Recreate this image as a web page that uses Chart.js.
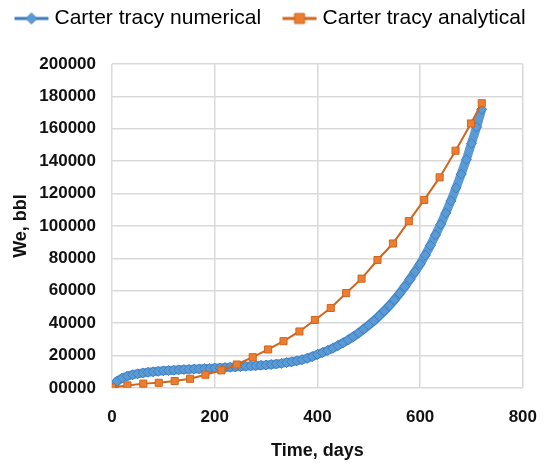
<!DOCTYPE html>
<html>
<head>
<meta charset="utf-8">
<script src="https://cdn.jsdelivr.net/npm/chart.js@4.4.1/dist/chart.umd.min.js"></script>
<style>
  html, body { margin: 0; padding: 0; background: #fff; }
  #wrap { width: 556px; height: 466px; }
</style>
</head>
<body>
<div id="wrap"><canvas id="weChart" width="556" height="466"></canvas></div>
<script>
// Carter-Tracy water influx, numerical (daily-ish) vs analytical (monthly)
const numericalDays = [0, 10, 20, 30, 40, 50, 60, 70, 80, 90, 100, 110, 120, 130, 140, 150, 160, 170, 180, 190,
  200, 210, 220, 230, 240, 250, 260, 270, 280, 290, 300, 310, 320, 330, 340, 350, 360, 370, 380, 390,
  400, 410, 420, 430, 440, 450, 460, 470, 480, 490, 500, 510, 520, 530, 540, 550, 560, 570, 580, 590,
  600, 610, 620, 630, 640, 650, 660, 670, 680, 690, 700, 710, 720];
const numericalWe = [0, 4200, 6200, 7400, 8200, 8800, 9300, 9700, 10000, 10300, 10600, 10800, 11000, 11200, 11400, 11500, 11700, 11800, 12000, 12100,
  12300, 12400, 12600, 12800, 13000, 13200, 13400, 13600, 13800, 14000, 14200, 14500, 14800, 15200, 15700, 16200, 16800, 17500, 18300, 19400,
  20700, 21900, 23200, 24600, 26200, 27900, 29700, 31700, 33900, 36300, 38800, 41500, 44400, 47500, 50800, 54400, 58300, 62500, 67000, 71700,
  76500, 82000, 88000, 94500, 101000, 108000, 115500, 123500, 132000, 141000, 151000, 161000, 172000];

const analyticalDays = [0, 30, 61, 91, 122, 152, 182, 213, 243, 274, 304, 334, 365, 395, 426, 456, 486, 517, 547, 578, 608, 638, 669, 699, 720];
const analyticalWe = [300, 1600, 2700, 3200, 4300, 5700, 8200, 10900, 14500, 19000, 23800, 28900, 34900, 42000, 49400, 58600, 67500, 79000, 89200, 103000, 116100, 130000, 146500, 163300, 175800];

const xTicks = [0, 200, 400, 600, 800];
const yMax = 200000;
const yStep = 20000;

const seriesNames = ['Carter tracy numerical', 'Carter tracy analytical'];

const BLUE = '#5B9BD5';
const BLUE_DARK = '#3F7EC0';
const ORANGE = '#ED7D31';
const ORANGE_LINE = '#D0651D';

// legend icon: short line with the marker in the middle,
// left part of the canvas left empty so the items sit further apart
function makeIcon(lineColor, fill, edge, shape) {
  const c = document.createElement('canvas');
  c.width = 64;
  c.height = 14;
  const g = c.getContext('2d');
  g.strokeStyle = lineColor;
  g.lineWidth = 3;
  g.beginPath();
  g.moveTo(24, 7);
  g.lineTo(58, 7);
  g.stroke();
  g.fillStyle = fill;
  g.strokeStyle = edge;
  g.lineWidth = 1;
  g.beginPath();
  if (shape === 'diamond') {
    g.moveTo(41, 1.5); g.lineTo(46.5, 7); g.lineTo(41, 12.5); g.lineTo(35.5, 7);
  } else {
    g.rect(36, 2, 10, 10);
  }
  g.closePath();
  g.fill();
  g.stroke();
  return c;
}
const icons = [
  makeIcon('#3A78B8', BLUE, BLUE_DARK, 'diamond'),
  makeIcon(ORANGE_LINE, ORANGE, ORANGE_LINE, 'square')
];

// push the plot down below the legend
const legendGap = {
  id: 'legendGap',
  beforeInit(chart) {
    const fit = chart.legend.fit;
    chart.legend.fit = function () {
      fit.bind(chart.legend)();
      this.height += 25;
    };
  }
};

const tickFont = { family: "'Liberation Sans', Arial, sans-serif", size: 17, weight: 'bold' };
const titleFont = { family: "'Liberation Sans', Arial, sans-serif", size: 18, weight: 'bold' };

const ctx = document.getElementById('weChart').getContext('2d');
new Chart(ctx, {
  type: 'line',
  data: {
    datasets: [
      {
        label: seriesNames[0],
        data: numericalDays.map((d, i) => ({ x: d, y: numericalWe[i] })),
        borderColor: BLUE,
        borderWidth: 9,
        pointStyle: 'rectRot',
        pointRadius: 5,
        pointBackgroundColor: BLUE,
        pointBorderColor: BLUE_DARK,
        pointBorderWidth: 1,
        tension: 0,
        order: 1
      },
      {
        label: seriesNames[1],
        data: analyticalDays.map((d, i) => ({ x: d, y: analyticalWe[i] })),
        borderColor: ORANGE_LINE,
        borderWidth: 2,
        pointStyle: 'rect',
        pointRadius: 5,
        pointBackgroundColor: ORANGE,
        pointBorderColor: ORANGE_LINE,
        pointBorderWidth: 1,
        tension: 0,
        order: 0
      }
    ]
  },
  options: {
    responsive: false,
    animation: false,
    layout: { padding: { left: -7, right: 16, top: 0, bottom: 0 } },
    plugins: {
      tooltip: { enabled: false },
      legend: {
        position: 'top',
        align: 'start',
        labels: {
          color: '#000',
          font: { family: "'Liberation Sans', Arial, sans-serif", size: 21 },
          usePointStyle: true,
          pointStyleWidth: 43,
          padding: 8,
          generateLabels: chart => seriesNames.map((name, i) => ({
            text: name,
            pointStyle: icons[i],
            fillStyle: 'transparent',
            strokeStyle: 'transparent',
            lineWidth: 0,
            datasetIndex: i,
            hidden: false
          }))
        }
      }
    },
    scales: {
      x: {
        type: 'linear',
        min: 0,
        max: 800,
        afterBuildTicks: scale => { scale.ticks = xTicks.map(v => ({ value: v })); },
        afterFit: scale => { scale.height = 78; },
        grid: { color: '#D9D9D9', lineWidth: 1.5, drawTicks: false },
        border: { display: false },
        ticks: { color: '#111', font: tickFont, padding: 19, maxRotation: 0 },
        title: { display: true, text: 'Time, days', color: '#111', font: titleFont, padding: { top: 4, bottom: 4 } }
      },
      y: {
        min: 0,
        max: yMax,
        afterFit: scale => { scale.width = 119; },
        grid: { color: '#D9D9D9', lineWidth: 1.5, drawTicks: false },
        border: { display: false },
        ticks: {
          stepSize: yStep,
          color: '#111',
          font: tickFont,
          padding: 16,
          callback: v => String(v).padStart(5, '0')
        },
        title: { display: true, text: 'We, bbl', color: '#111', font: titleFont, padding: { top: 17, bottom: 0 } }
      }
    }
  },
  plugins: [legendGap]
});
</script>
</body>
</html>
